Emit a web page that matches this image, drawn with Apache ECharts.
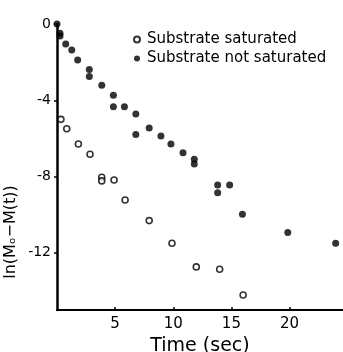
<!DOCTYPE html>
<html>
<head>
<meta charset="utf-8">
<script src="https://cdn.jsdelivr.net/npm/echarts@6/dist/echarts.min.js"></script>
<style>
  html, body { margin: 0; padding: 0; background: #fff; }
  #chart { width: 343px; height: 352px; }
</style>
</head>
<body>
<div id="chart"></div>
<script>
// Relaxation data: ln(M0 - M(t)) against time in seconds
const saturatedTime = [0.34, 0.84, 1.84, 2.84, 3.85, 3.85, 4.91, 5.86, 7.93, 9.89, 11.98, 13.99, 16.01];
const saturatedValue = [-5.0, -5.49, -6.29, -6.83, -8.04, -8.23, -8.18, -9.23, -10.31, -11.5, -12.74, -12.86, -14.21];

const notSaturatedTime = [0, 0.26, 0.26, 0.75, 1.27, 1.78, 2.78, 2.78, 3.85, 4.85, 4.85, 5.8, 6.78, 6.78, 7.93, 8.94, 9.8, 10.84, 11.81, 11.81, 13.82, 13.82, 14.85, 15.95, 19.85, 23.97];
const notSaturatedValue = [0, -0.49, -0.63, -1.05, -1.36, -1.89, -2.38, -2.76, -3.21, -3.74, -4.34, -4.34, -4.72, -5.8, -5.45, -5.87, -6.29, -6.75, -7.09, -7.34, -8.44, -8.85, -8.44, -9.98, -10.94, -11.5];

const xTicks = [5, 10, 15, 20];
const yTicks = [0, -4, -8, -12];

const seriesNames = ['Substrate saturated', 'Substrate not saturated'];

const pair = (xs, ys) => xs.map((x, i) => [x, ys[i]]);

const font = 'DejaVu Sans';
const ink = '#000';
const chart = echarts.init(document.getElementById('chart'), null, { renderer: 'canvas' });

chart.setOption({
  animation: false,
  backgroundColor: '#fff',
  grid: { left: 57, right: 0, top: 24, bottom: 42, containLabel: false, outerBoundsMode: 'none' },
  legend: {
    data: seriesNames,
    orient: 'vertical',
    left: 128,
    top: 27,
    itemWidth: 6,
    itemHeight: 6,
    itemGap: 4,
    textStyle: { fontFamily: font, fontSize: 15, color: ink, padding: [0, 0, 0, 2] }
  },
  xAxis: {
    type: 'value',
    min: 0,
    max: 24.6,
    interval: 5,
    splitLine: { show: false },
    axisLine: { onZero: false, lineStyle: { color: ink, width: 2 } },
    axisTick: { customValues: xTicks, inside: true, length: 3, lineStyle: { color: ink, width: 1.5 } },
    axisLabel: { customValues: xTicks, color: ink, fontFamily: font, fontSize: 15, margin: 7 },
    name: 'Time (sec)',
    nameLocation: 'middle',
    nameGap: 27,
    nameTextStyle: { color: ink, fontFamily: font, fontSize: 19 }
  },
  yAxis: {
    type: 'value',
    min: -15,
    max: 0,
    splitLine: { show: false },
    axisLine: { onZero: false, lineStyle: { color: ink, width: 2.5 } },
    axisTick: { customValues: yTicks, length: 3, lineStyle: { color: ink, width: 1.5 } },
    axisLabel: { customValues: yTicks, color: ink, fontFamily: font, fontSize: 14, margin: 6 }
  },
  graphic: [{
    type: 'text',
    x: 11,
    y: 232,
    rotation: Math.PI / 2,
    style: {
      text: 'ln(Mₒ−M(t))',
      fontFamily: font,
      fontSize: 16,
      fill: ink,
      align: 'center',
      verticalAlign: 'middle'
    }
  }],
  series: [
    {
      name: seriesNames[0],
      type: 'scatter',
      symbol: 'circle',
      symbolSize: 6,
      itemStyle: { color: '#fff', borderColor: ink, borderWidth: 1.6 },
      data: pair(saturatedTime, saturatedValue)
    },
    {
      name: seriesNames[1],
      type: 'scatter',
      symbol: 'circle',
      symbolSize: 7,
      itemStyle: { color: ink },
      data: pair(notSaturatedTime, notSaturatedValue)
    }
  ]
});
</script>
</body>
</html>
